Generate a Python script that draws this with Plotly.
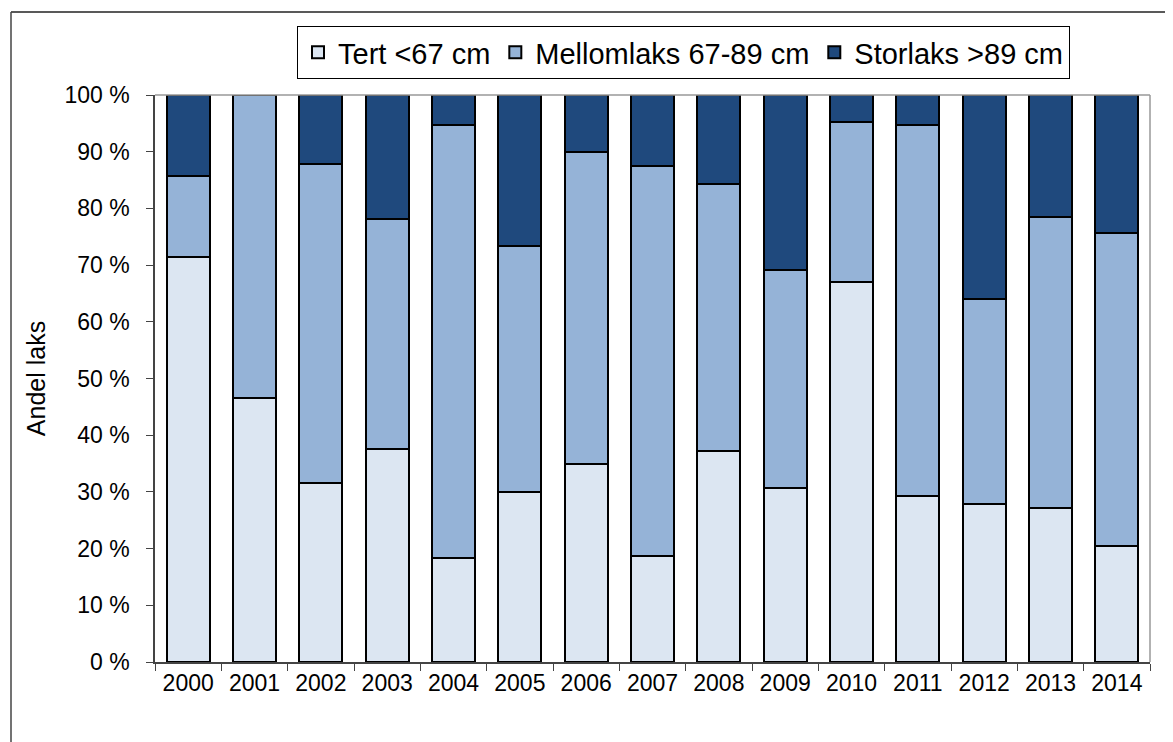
import plotly.graph_objects as go

years = ["2000", "2001", "2002", "2003", "2004", "2005", "2006", "2007",
         "2008", "2009", "2010", "2011", "2012", "2013", "2014"]
tert = [71.5, 46.5, 31.6, 37.5, 18.3, 30.0, 35.0, 18.7, 37.2, 30.7, 67.1, 29.2, 27.8, 27.1, 20.5]
mellomlaks = [14.2, 53.5, 56.2, 40.6, 76.4, 43.4, 55.0, 68.8, 47.1, 38.4, 28.1, 65.5, 36.3, 51.3, 55.2]
storlaks = [14.3, 0.0, 12.2, 21.9, 5.3, 26.6, 10.0, 12.5, 15.7, 30.9, 4.8, 5.3, 35.9, 21.6, 24.3]

series = [
    ("Tert <67 cm", tert, "#DCE6F2"),
    ("Mellomlaks 67-89 cm", mellomlaks, "#95B3D7"),
    ("Storlaks >89 cm", storlaks, "#1F497D"),
]

fig = go.Figure()
for name, vals, col in series:
    fig.add_trace(go.Bar(
        x=years, y=vals, name=name,
        marker=dict(color=col, line=dict(color="black", width=2)),
    ))

OFF = 8  # page body margin
W, H = 1173, 742
# target page-pixel positions of the plot area
PX_L, PX_R, PX_T, PX_B = 155, 1150, 95, 662
L = PX_L - OFF
T = PX_T - OFF
R = W - (PX_R - OFF)
B = H - (PX_B - OFF)
pw, ph = PX_R - PX_L, PX_B - PX_T

def px_x(p):
    return (p - PX_L) / pw

def px_y(p):
    return (PX_B - p) / ph

fig.update_layout(
    width=W, height=H,
    barmode="stack", bargap=0.35,
    plot_bgcolor="white", paper_bgcolor="white",
    margin=dict(l=L, r=R, t=T, b=B, autoexpand=False),
    font=dict(family="Liberation Sans, Arial, sans-serif", color="black"),
    legend=dict(
        orientation="h", x=px_x(297), y=px_y(26), xanchor="left", yanchor="top",
        font=dict(size=29, family="Liberation Sans, Arial, sans-serif"),
        bordercolor="black", borderwidth=1, bgcolor="white",
        traceorder="normal", itemwidth=30, tracegroupgap=0,
    ),
    xaxis=dict(
        showline=True, linecolor="#444444", linewidth=1.5, mirror=False,
        ticks="outside", tickson="boundaries", ticklen=7, tickcolor="#444444",
        tickfont=dict(size=23), showgrid=False,
    ),
    yaxis=dict(
        range=[0, 100], dtick=10, tickmode="linear", ticksuffix=" %",
        showline=True, linecolor="#444444", linewidth=1.5,
        ticks="outside", ticklen=7, tickcolor="#444444",
        tickfont=dict(size=23), showgrid=False, ticklabelstandoff=12,
        title=dict(text="Andel laks", font=dict(size=25), standoff=12),
    ),
    shapes=[
        dict(type="line", xref="paper", yref="paper", x0=0, x1=1, y0=1, y1=1,
             line=dict(color="#999999", width=1.5)),
        dict(type="line", xref="paper", yref="paper", x0=1, x1=1, y0=0, y1=1,
             line=dict(color="#999999", width=1.5)),
        dict(type="line", xref="paper", yref="paper", x0=px_x(11), x1=px_x(1190),
             y0=px_y(12), y1=px_y(12), line=dict(color="#222222", width=1.5)),
        dict(type="line", xref="paper", yref="paper", x0=px_x(11), x1=px_x(11),
             y0=px_y(12), y1=px_y(770), line=dict(color="#444444", width=1.5)),
    ],
)

fig.write_html("out.html")
